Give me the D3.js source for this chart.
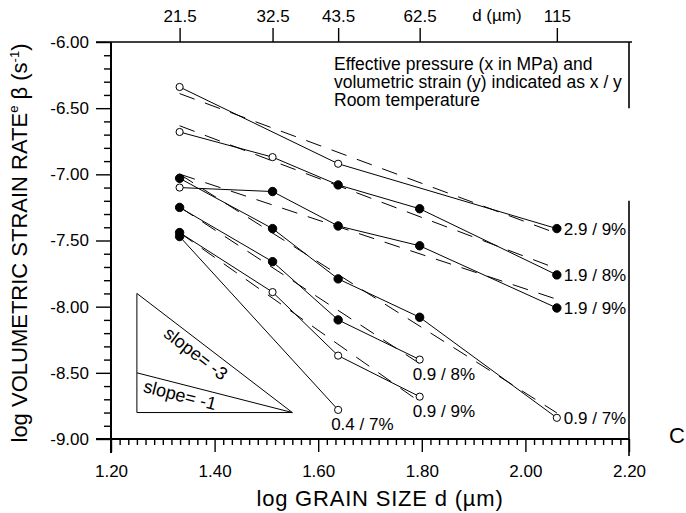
<!DOCTYPE html>
<html>
<head>
<meta charset="utf-8">
<script src="https://cdn.jsdelivr.net/npm/d3@7"></script>
<style>
  html, body { margin: 0; padding: 0; background: #fff; }
  svg text { font-family: "Liberation Sans", Arial, Helvetica, sans-serif; fill: #000; }
</style>
</head>
<body>
<svg id="chart" width="686" height="513"></svg>
<script>
// Grain sizes d (µm) of the tested aggregates; plotted as log10(d)
const grainSizes = [21.5, 32.5, 43.5, 62.5, 115];
const topTickLabels = ["21.5", "32.5", "43.5", "62.5", "115"];

// Axis ticks
const yTicks = [-6.0, -6.5, -7.0, -7.5, -8.0, -8.5, -9.0];
const xTicks = [1.2, 1.4, 1.6, 1.8, 2.0, 2.2];

// One entry per test condition: effective pressure (MPa) / volumetric strain
const seriesLabels = ["2.9 / 9%", "1.9 / 8%", "1.9 / 9%", "0.9 / 7%", "0.9 / 8%", "0.9 / 9%", "0.4 / 7%"];

// log volumetric strain rate at each grain size (null = not tested)
const rate_29_9 = [-6.34, null, -6.92, null, -7.41];
const rate_19_8 = [-6.68, -6.87, -7.08, -7.26, -7.76];
const rate_19_9 = [-7.10, -7.13, -7.39, -7.54, -8.01];
const rate_09_7 = [-7.03, -7.41, -7.79, -8.08, -8.84];
const rate_09_8 = [-7.25, -7.66, -8.10, -8.40, null];
const rate_09_9 = [-7.44, -7.89, -8.37, -8.68, null];
const rate_04_7 = [-7.47, null, -8.78, null, null];

// marker style per point: 1 = solid dot, 0 = open circle
const solid_29_9 = [0, null, 0, null, 1];
const solid_19_8 = [0, 0, 1, 1, 1];
const solid_19_9 = [0, 1, 1, 1, 1];
const solid_09_7 = [1, 1, 1, 1, 0];
const solid_09_8 = [1, 1, 1, 0, null];
const solid_09_9 = [1, 0, 0, 0, null];
const solid_04_7 = [1, null, 0, null, null];

const rateSets = [rate_29_9, rate_19_8, rate_19_9, rate_09_7, rate_09_8, rate_09_9, rate_04_7];
const solidSets = [solid_29_9, solid_19_8, solid_19_9, solid_09_7, solid_09_8, solid_09_9, solid_04_7];

// reference slopes drawn in the lower-left corner
const guideSlopes = [-3, -1];

// ---------------------------------------------------------------------------
const svg = d3.select("#chart");
const margin = { left: 111, top: 42, right: 57, bottom: 74 };
const W = 686 - margin.left - margin.right;   // 518
const H = 513 - margin.top - margin.bottom;   // 397

const x = d3.scaleLinear().domain([1.2, 2.2]).range([0, W]);
const y = d3.scaleLinear().domain([-6.0, -9.0]).range([0, H]);

const g = svg.append("g").attr("transform", `translate(${margin.left},${margin.top})`);

const series = seriesLabels.map((label, i) => ({
  label,
  points: grainSizes.map((d, j) => ({
    lx: Math.log10(d),
    v: rateSets[i][j],
    solid: solidSets[i][j]
  })).filter(p => p.v !== null)
}));

// ---- axes -----------------------------------------------------------------
function styleAxis(sel, size) {
  sel.select(".domain").remove();
  sel.selectAll(".tick line").attr("stroke", "#000").attr("stroke-width", 1.4);
  sel.selectAll("text").attr("font-size", size).attr("font-family", null).attr("fill", "#000");
  sel.attr("font-family", null);
}

// left: major + minor ticks (every 0.1)
const yMinor = d3.range(-6.0, -9.0001, -0.1).map(v => +v.toFixed(2)).filter(v => !yTicks.includes(v));
g.append("g").call(d3.axisLeft(y).tickValues(yMinor).tickSize(7).tickFormat("")).call(s => styleAxis(s, 17));
g.append("g").call(d3.axisLeft(y).tickValues(yTicks).tickSize(15).tickPadding(7).tickFormat(v => v.toFixed(2)))
  .call(s => styleAxis(s, 17));

// bottom: major + minor ticks
const xMinor = d3.range(0, 61).map(k => 1.2 + k / 60).filter(v => !xTicks.some(t => Math.abs(t - v) < 1e-6));
g.append("g").attr("transform", `translate(0,${H})`)
  .call(d3.axisBottom(x).tickValues(xMinor).tickSize(6).tickFormat("")).call(s => styleAxis(s, 17));
g.append("g").attr("transform", `translate(0,${H})`)
  .call(d3.axisBottom(x).tickValues(xTicks).tickSize(13).tickPadding(13).tickFormat(v => v.toFixed(2)))
  .call(s => styleAxis(s, 17));

// top: grain size in µm
g.append("g")
  .call(d3.axisTop(x).tickValues(grainSizes.map(d => Math.log10(d))).tickSize(14).tickPadding(6)
    .tickFormat((v, i) => topTickLabels[i]))
  .call(s => styleAxis(s, 17));
g.append("text").attr("x", x(1.945)).attr("y", -21).attr("text-anchor", "middle")
  .attr("font-size", 17).text("d (µm)");

// frame
const frame = g.append("g").attr("stroke", "#000").attr("fill", "none");
frame.append("line").attr("x1", 0).attr("x2", 0).attr("y1", 0).attr("y2", H + 14).attr("stroke-width", 2);
frame.append("line").attr("x1", -15).attr("x2", W + 3).attr("y1", 0).attr("y2", 0).attr("stroke-width", 1.6);
frame.append("line").attr("x1", -15).attr("x2", W).attr("y1", H).attr("y2", H).attr("stroke-width", 2);
frame.append("line").attr("x1", W).attr("x2", W).attr("y1", 0).attr("y2", y(-6.5)).attr("stroke-width", 1.6);
frame.append("line").attr("x1", W).attr("x2", W).attr("y1", y(-7.2)).attr("y2", H + 17).attr("stroke-width", 1.6);

// ---- axis titles ------------------------------------------------------------
svg.append("text").attr("x", 380).attr("y", 506).attr("text-anchor", "middle")
  .attr("font-size", 22).attr("letter-spacing", 0.8).text("log GRAIN SIZE d  (µm)");

const yt = svg.append("text").attr("transform", "translate(27,243) rotate(-90)")
  .attr("text-anchor", "middle").attr("font-size", 22);
yt.append("tspan").text("log VOLUMETRIC STRAIN RATE");
yt.append("tspan").attr("font-size", 13).attr("dy", -9).text("e");
yt.append("tspan").attr("dy", 9).text(" β (s");
yt.append("tspan").attr("font-size", 13).attr("dy", -8).text("-1");
yt.append("tspan").attr("dy", 8).text(")");

svg.append("text").attr("x", 669).attr("y", 443).attr("font-size", 22).text("C");

// ---- legend note --------------------------------------------------------------
const note = ["Effective pressure (x in MPa) and", "volumetric strain (y) indicated as x / y", "Room temperature"];
g.append("g").selectAll("text").data(note).join("text")
  .attr("x", 223).attr("y", (d, i) => 28 + i * 18)
  .attr("font-size", 17.5).text(d => d);

// ---- least-squares fits (dashed) ----------------------------------------------
function fit(pts) {
  const mx = d3.mean(pts, p => p.lx), my = d3.mean(pts, p => p.v);
  const sxy = d3.sum(pts, p => (p.lx - mx) * (p.v - my));
  const sxx = d3.sum(pts, p => (p.lx - mx) ** 2);
  const b = sxy / sxx;
  return xv => my + b * (xv - mx);
}
g.append("g").selectAll("line").data(series.filter(s => s.points.length > 2)).join("line")
  .each(function (s) {
    const f = fit(s.points);
    const x0 = d3.min(s.points, p => p.lx), x1 = d3.max(s.points, p => p.lx);
    d3.select(this).attr("x1", x(x0)).attr("y1", y(f(x0))).attr("x2", x(x1)).attr("y2", y(f(x1)));
  })
  .attr("stroke", "#000").attr("stroke-width", 1).attr("stroke-dasharray", "16,11");

// ---- measured series ---------------------------------------------------------
const line = d3.line().x(p => x(p.lx)).y(p => y(p.v));
g.append("g").selectAll("path").data(series).join("path")
  .attr("d", s => line(s.points)).attr("fill", "none").attr("stroke", "#000").attr("stroke-width", 1);

g.append("g").selectAll("circle").data(series.flatMap(s => s.points)).join("circle")
  .attr("cx", p => x(p.lx)).attr("cy", p => y(p.v))
  .attr("r", p => p.solid ? 4.2 : 3.6)
  .attr("fill", p => p.solid ? "#000" : "#fff")
  .attr("stroke", "#000").attr("stroke-width", 1);

// series labels: at the right end, or under the last point
const underLabel = new Set(["0.9 / 8%", "0.9 / 9%", "0.4 / 7%"]);
g.append("g").selectAll("text").data(series).join("text")
  .each(function (s) {
    const last = s.points[s.points.length - 1];
    const under = underLabel.has(s.label);
    d3.select(this)
      .attr("x", x(last.lx) + (under ? -7 : 7))
      .attr("y", y(last.v) + (under ? 20 : 6));
  })
  .attr("font-size", 17).text(s => s.label);

// ---- slope guide triangle ---------------------------------------------------
const gx0 = 1.25, gx1 = 1.55, gy = -8.80;
const guide = g.append("g").attr("stroke", "#000").attr("stroke-width", 1).attr("fill", "none");
const topY = gy - guideSlopes[0] * (gx1 - gx0);
guide.append("line").attr("x1", x(gx0)).attr("x2", x(gx0)).attr("y1", y(topY)).attr("y2", y(gy));
guide.append("line").attr("x1", x(gx0)).attr("x2", x(gx1)).attr("y1", y(gy)).attr("y2", y(gy));
guideSlopes.forEach((s, i) => {
  const ax = x(gx0), ay = y(gy - s * (gx1 - gx0));
  const bx = x(gx1), by = y(gy);
  guide.append("line").attr("x1", ax).attr("y1", ay).attr("x2", bx).attr("y2", by);
  const len = Math.hypot(bx - ax, by - ay);
  const ux = (bx - ax) / len, uy = (by - ay) / len;
  const along = i === 0 ? 46 : 10;
  const ang = Math.atan2(by - ay, bx - ax) * 180 / Math.PI;
  g.append("text")
    .attr("transform", `translate(${ax + ux * along},${ay + uy * along}) rotate(${ang})`)
    .attr("x", 0).attr("y", i === 0 ? 18 : 17)
    .attr("font-size", 18).text(`slope= ${s}`);
});
</script>
</body>
</html>
